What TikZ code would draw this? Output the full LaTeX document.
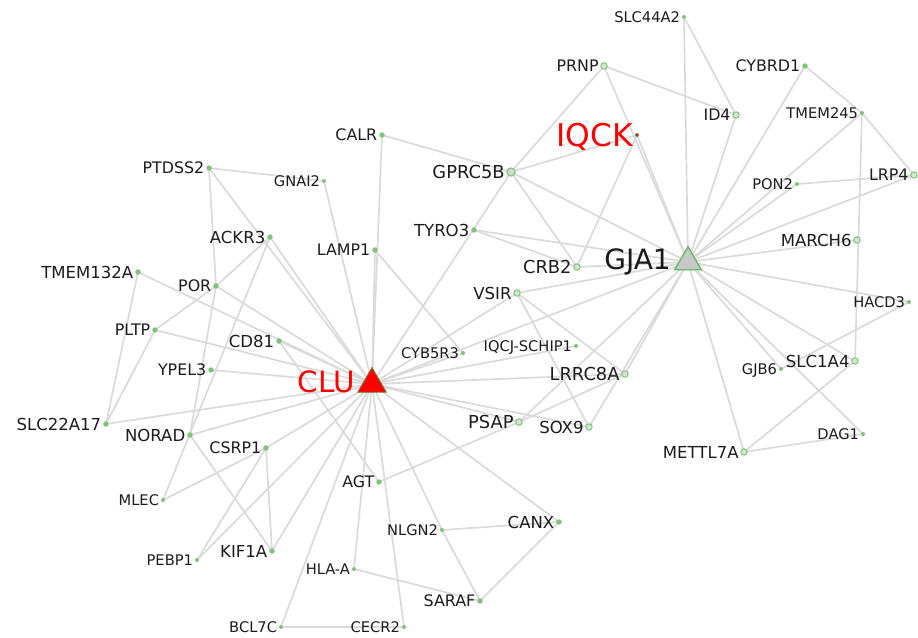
\documentclass[tikz,border=0pt]{standalone}
\usepackage{fontspec}
\setmainfont{DejaVu Sans}
\usetikzlibrary{shapes.geometric,backgrounds,positioning}
\definecolor{edgec}{RGB}{218,218,218}
\definecolor{dotc}{RGB}{128,195,122}
\definecolor{ringfill}{RGB}{214,228,212}
\definecolor{txt}{RGB}{28,28,28}
\definecolor{clured}{RGB}{255,0,0}
\definecolor{cluborder}{RGB}{110,140,60}
\definecolor{gjafill}{RGB}{200,200,200}
\definecolor{gjaborder}{RGB}{105,185,100}
\definecolor{iqckdot}{RGB}{150,55,30}
\tikzset{
  gdT/.style={circle, fill=dotc, inner sep=0pt, minimum size=3pt},
  gdS/.style={circle, fill=dotc, inner sep=0pt, minimum size=4.1pt},
  gdR/.style={circle, draw=dotc, fill=ringfill, line width=0.75pt, inner sep=0pt, minimum size=4.8pt},
  gdB/.style={circle, draw=dotc, fill=gray!30, line width=0.9pt, inner sep=0pt, minimum size=6pt},
  lbT/.style={text=txt, inner sep=1.1pt, font=\fontsize{11}{11}\selectfont, text height=8.0pt, text depth=0pt},
  lbS/.style={text=txt, inner sep=1.1pt, font=\fontsize{11.9}{11.9}\selectfont, text height=8.7pt, text depth=0pt},
  lbM/.style={text=txt, inner sep=1.1pt, font=\fontsize{12.4}{12.4}\selectfont, text height=9.0pt, text depth=0pt},
  lbB/.style={text=txt, inner sep=1.1pt, font=\fontsize{13.4}{13.4}\selectfont, text height=9.8pt, text depth=0pt},
  lnk/.style={draw=edgec, line width=1.25pt},
  hubtri/.style={regular polygon, regular polygon sides=3, inner sep=0pt},
}
\newcommand\genenode[6]{%
  \node[#4] (#1) at (#2,#3) {};
  \node[#5, left=0pt of #1] (#1-l) {#6};}
\begin{document}
\begin{tikzpicture}[x=0.75pt,y=-0.75pt]
\useasboundingbox (0,0) rectangle (918,637);

% hubs
\node[hubtri, fill=clured, draw=cluborder, line width=0.6pt, minimum size=25pt] (CLU) at (372,384) {};
\node[anchor=east, text=clured, font=\fontsize{22}{22}\selectfont, inner sep=0pt, text height=16pt, text depth=0pt] (CLU-l) at ([shift={(-17,-2.5)}]CLU.center) {CLU};
\node[hubtri, fill=gjafill, draw=gjaborder, line width=1pt, minimum size=23pt] (GJA1) at (688,262) {};
\node[anchor=east, text=black!90, font=\fontsize{21}{21}\selectfont, inner sep=0pt, text height=15.3pt, text depth=0pt] (GJA1-l) at ([shift={(-17,-3)}]GJA1.center) {GJA1};
\node[circle, fill=iqckdot, draw=dotc!70, line width=0.3pt, inner sep=0pt, minimum size=3pt] (IQCK) at (637,135) {};
\node[anchor=east, text=clured, font=\fontsize{23.5}{23.5}\selectfont, inner sep=0pt, text height=17.1pt, text depth=0pt] (IQCK-l) at ([shift={(-4,0)}]IQCK.center) {IQCK};

% genes
\genenode{CALR}{382}{135}{gdS}{lbS}{CALR}
\genenode{PTDSS2}{209}{168}{gdS}{lbS}{PTDSS2}
\genenode{GNAI2}{324}{181}{gdT}{lbT}{GNAI2}
\genenode{ACKR3}{270}{237}{gdS}{lbM}{ACKR3}
\genenode{LAMP1}{375}{250}{gdS}{lbS}{LAMP1}
\genenode{TMEM132A}{138}{272}{gdS}{lbM}{TMEM132A}
\genenode{POR}{216}{286}{gdS}{lbS}{POR}
\genenode{PLTP}{155}{330}{gdS}{lbS}{PLTP}
\genenode{CD81}{279}{341}{gdS}{lbM}{CD81}
\genenode{YPEL3}{211}{370}{gdS}{lbS}{YPEL3}
\genenode{SLC22A17}{106}{424}{gdS}{lbM}{SLC22A17}
\genenode{NORAD}{190}{435}{gdS}{lbM}{NORAD}
\genenode{CSRP1}{266}{448}{gdS}{lbS}{CSRP1}
\genenode{AGT}{379}{482}{gdS}{lbS}{AGT}
\genenode{MLEC}{163}{500}{gdT}{lbT}{MLEC}
\genenode{NLGN2}{442}{530}{gdT}{lbT}{NLGN2}
\genenode{KIF1A}{272}{551}{gdS}{lbM}{KIF1A}
\genenode{PEBP1}{197}{560}{gdT}{lbT}{PEBP1}
\genenode{HLAA}{354}{569}{gdT}{lbT}{HLA-A}
\genenode{BCL7C}{281}{627}{gdT}{lbT}{BCL7C}
\genenode{CECR2}{404}{627}{gdT}{lbT}{CECR2}
\genenode{CYB5R3}{463}{353}{gdT}{lbT}{CYB5R3}
\genenode{IQCJ}{576}{346}{gdT}{lbT}{IQCJ-SCHIP1}
\genenode{TYRO3}{474}{230}{gdS}{lbM}{TYRO3}
\genenode{GPRC5B}{511}{172}{gdB}{lbB}{GPRC5B}
\genenode{CRB2}{577}{267}{gdR}{lbB}{CRB2}
\genenode{VSIR}{517}{293}{gdR}{lbM}{VSIR}
\genenode{LRRC8A}{625}{374}{gdR}{lbB}{LRRC8A}
\genenode{PSAP}{519}{422}{gdR}{lbB}{PSAP}
\genenode{SOX9}{589}{427}{gdR}{lbM}{SOX9}
\genenode{CANX}{559}{522}{gdS}{lbM}{CANX}
\genenode{SARAF}{480}{601}{gdS}{lbS}{SARAF}
\genenode{SLC44A2}{684}{17}{gdT}{lbT}{SLC44A2}
\genenode{PRNP}{604}{66}{gdR}{lbS}{PRNP}
\genenode{CYBRD1}{805}{66}{gdS}{lbS}{CYBRD1}
\genenode{ID4}{736}{115}{gdR}{lbS}{ID4}
\genenode{TMEM245}{862}{113}{gdT}{lbT}{TMEM245}
\genenode{LRP4}{914}{175}{gdR}{lbS}{LRP4}
\genenode{PON2}{797}{184}{gdT}{lbT}{PON2}
\genenode{MARCH6}{857}{240}{gdR}{lbM}{MARCH6}
\genenode{HACD3}{909}{302}{gdT}{lbT}{HACD3}
\genenode{GJB6}{781}{369}{gdT}{lbT}{GJB6}
\genenode{SLC1A4}{855}{361}{gdR}{lbM}{SLC1A4}
\genenode{DAG1}{863}{434}{gdT}{lbT}{DAG1}
\genenode{METTL7A}{744}{452}{gdR}{lbM}{METTL7A}

\begin{pgfonlayer}{background}
\fill[white] (0,0) rectangle (918,637);
\foreach \a/\b in {
  CLU/CALR, CLU/LAMP1, CLU/GNAI2, CLU/PTDSS2, CLU/ACKR3, CLU/TMEM132A, CLU/POR,
  CLU/PLTP, CLU/CD81, CLU/YPEL3, CLU/SLC22A17, CLU/NORAD, CLU/CSRP1, CLU/PEBP1,
  CLU/KIF1A, CLU/BCL7C, CLU/HLAA, CLU/CECR2, CLU/NLGN2, CLU/CANX, CLU/PSAP,
  CLU/SOX9, CLU/LRRC8A, CLU/IQCJ, CLU/CYB5R3, CLU/VSIR, CLU/GJA1, CLU/GPRC5B,
  PTDSS2/GNAI2, PTDSS2/POR, ACKR3/POR, ACKR3/MLEC, TMEM132A/SLC22A17,
  PLTP/POR, PLTP/SLC22A17, NORAD/POR, NORAD/KIF1A, CSRP1/KIF1A, CSRP1/PEBP1,
  CSRP1/MLEC, CD81/AGT, AGT/PSAP, PSAP/LRRC8A, PSAP/GJA1, LRRC8A/GJA1,
  LRRC8A/VSIR, SOX9/VSIR, SOX9/GJA1, NLGN2/CANX, NLGN2/SARAF, CANX/SARAF,
  HLAA/SARAF, BCL7C/CECR2, LAMP1/CYB5R3, CALR/GPRC5B,
  GPRC5B/IQCK, GPRC5B/PRNP, GPRC5B/GJA1, GPRC5B/CRB2, IQCK/GJA1, IQCK/CRB2,
  PRNP/GJA1, PRNP/ID4, SLC44A2/GJA1, SLC44A2/ID4, ID4/GJA1, TYRO3/GJA1,
  TYRO3/CRB2, CRB2/GJA1, VSIR/GJA1, CYBRD1/GJA1, CYBRD1/TMEM245,
  TMEM245/GJA1, TMEM245/LRP4, TMEM245/SLC1A4, PON2/GJA1, PON2/LRP4,
  LRP4/GJA1, MARCH6/GJA1, HACD3/GJA1, HACD3/GJB6, SLC1A4/GJA1,
  SLC1A4/METTL7A, GJB6/GJA1, DAG1/GJA1, DAG1/METTL7A, METTL7A/GJA1}
  \draw[lnk] (\a.center) -- (\b.center);
\end{pgfonlayer}
\end{tikzpicture}
\end{document}
